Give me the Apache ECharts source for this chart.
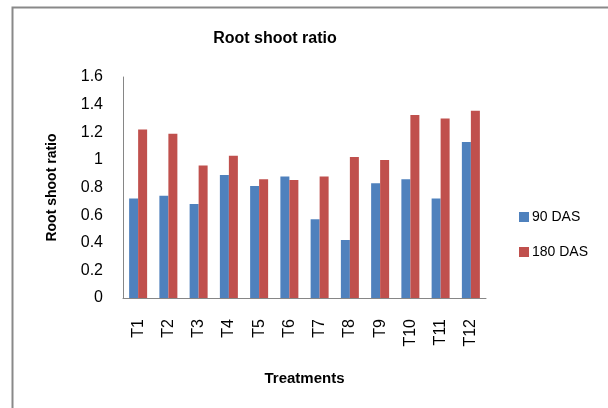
<!DOCTYPE html>
<html>
<head>
<meta charset="utf-8">
<script src="https://cdn.jsdelivr.net/npm/echarts@6/dist/echarts.min.js"></script>
<style>
  html, body { margin: 0; padding: 0; background: #fff; }
  #chart { width: 608px; height: 408px; }
</style>
</head>
<body>
<div id="chart"></div>
<script>
const treatments = ['T1', 'T2', 'T3', 'T4', 'T5', 'T6', 'T7', 'T8', 'T9', 'T10', 'T11', 'T12'];
const das90 = [0.72, 0.74, 0.68, 0.89, 0.81, 0.88, 0.57, 0.42, 0.83, 0.86, 0.72, 1.13];
const das180 = [1.22, 1.19, 0.96, 1.03, 0.86, 0.855, 0.88, 1.02, 1.00, 1.325, 1.30, 1.355];
const yTicks = [0, 0.2, 0.4, 0.6, 0.8, 1, 1.2, 1.4, 1.6];

const font = 'Liberation Sans, Arial, sans-serif';
const chart = echarts.init(document.getElementById('chart'), null, { renderer: 'canvas' });

chart.setOption({
  animation: false,
  backgroundColor: '#ffffff',
  graphic: [{
    type: 'rect',
    left: 10, top: 5,
    shape: { width: 800, height: 600 },
    style: { fill: 'none', stroke: '#898989', lineWidth: 2 },
    silent: true
  }],
  title: {
    text: 'Root shoot ratio',
    left: 270, top: 26,
    textAlign: 'center',
    textStyle: { fontFamily: font, fontSize: 16, fontWeight: 'bold', color: '#000' }
  },
  legend: {
    orient: 'vertical',
    left: 514, top: 205,
    itemWidth: 10, itemHeight: 10, itemGap: 21,
    icon: 'rect',
    textStyle: { fontFamily: font, fontSize: 14, color: '#000', padding: [0, 0, 0, -2] },
    data: ['90 DAS', '180 DAS']
  },
  grid: { left: 123, top: 77, right: 122, bottom: 110 },
  xAxis: {
    type: 'category',
    data: treatments,
    name: 'Treatments',
    nameLocation: 'middle',
    nameGap: 73,
    nameTextStyle: { fontFamily: font, fontSize: 15, fontWeight: 'bold', color: '#000' },
    axisLine: { lineStyle: { color: '#868686', width: 1 } },
    axisTick: { show: false },
    axisLabel: { rotate: 90, margin: 21, fontFamily: font, fontSize: 16, color: '#000', interval: 0 }
  },
  yAxis: {
    type: 'value',
    min: 0, max: 1.6, interval: 0.2,
    name: 'Root shoot ratio',
    nameLocation: 'middle',
    nameGap: 64,
    nameTextStyle: { fontFamily: font, fontSize: 14, fontWeight: 'bold', color: '#000' },
    axisLine: { show: true, lineStyle: { color: '#868686', width: 1 } },
    axisTick: { show: false },
    splitLine: { show: false },
    axisLabel: {
      margin: 20, fontFamily: font, fontSize: 16, color: '#000',
      formatter: v => {
        const t = yTicks.find(x => Math.abs(x - v) < 1e-9);
        return t === undefined ? '' : String(t);
      }
    }
  },
  series: [
    { name: '90 DAS', type: 'bar', data: das90, barWidth: 9, barGap: '0%',
      itemStyle: { color: '#4F81BD' } },
    { name: '180 DAS', type: 'bar', data: das180, barWidth: 9, barGap: '0%',
      itemStyle: { color: '#C0504D' } }
  ]
});
</script>
</body>
</html>
